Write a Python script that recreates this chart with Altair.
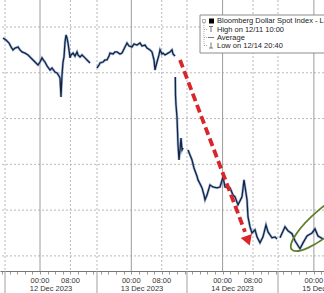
import altair as alt
import pandas as pd

# ---- series (hours from 12 Dec 2023 00:00, index level), segments split at session gaps
hours_a = [-9.73, -8.94, -8.15, -7.62, -7.10, -6.57, -5.78, -5.26, -4.73, -3.94, -3.15, -2.63, -1.84, -1.31,
           -0.53, 0.0, 0.53, 1.05, 1.31, 1.84, 2.63, 3.15, 3.94, 4.47, 4.99, 5.26, 5.52, 5.78, 6.05, 6.31,
           6.57, 6.84, 7.10, 7.36, 7.62, 7.89, 8.15, 8.68, 9.20, 9.73, 9.99, 10.52, 11.04, 11.83, 12.36, 13.14]
vals_a = [1251.52, 1251.43, 1251.30, 1251.13, 1251.00, 1251.08, 1251.13, 1251.00, 1250.91, 1250.86, 1250.78,
          1250.69, 1250.56, 1250.47, 1250.34, 1250.47, 1250.65, 1250.52, 1250.47, 1250.30, 1250.12, 1250.21,
          1250.03, 1249.99, 1249.86, 1249.77, 1248.94, 1249.90, 1250.47, 1250.69, 1251.34, 1251.65, 1251.52,
          1251.30, 1251.00, 1250.65, 1250.78, 1250.86, 1250.73, 1250.91, 1250.78, 1250.69, 1250.78, 1250.65,
          1250.56, 1250.43]

hours_b = [14.98, 15.51, 15.77, 16.56, 17.09, 17.61, 18.14, 18.40, 19.19, 19.72, 20.24, 21.03, 21.56, 22.34,
           22.87, 23.40, 24.19, 24.71, 25.50, 26.29, 26.81, 27.60, 28.13, 28.92, 29.44, 29.97, 30.23, 30.49,
           30.76, 31.28, 31.55, 32.07, 32.33, 32.86, 33.65, 34.17, 34.70, 34.96, 35.49]
vals_b = [1250.21, 1250.34, 1250.43, 1250.47, 1250.56, 1250.56, 1250.73, 1250.86, 1250.82, 1250.91, 1250.91,
          1250.82, 1250.86, 1251.13, 1251.30, 1251.17, 1251.13, 1251.26, 1251.21, 1251.30, 1251.17, 1251.21,
          1251.08, 1251.00, 1250.91, 1250.56, 1250.12, 1250.30, 1250.47, 1250.78, 1251.00, 1250.82, 1250.86,
          1250.78, 1250.86, 1250.91, 1251.00, 1250.82, 1250.73]

hours_c = [35.57, 35.62, 35.75, 36.01, 36.14, 36.28, 36.54, 36.80, 37.07, 37.33, 37.59]
vals_c = [1249.82, 1249.03, 1248.59, 1248.07, 1247.50, 1246.85, 1246.19, 1246.63, 1247.15, 1246.63, 1246.72]

hours_d = [38.91, 39.43, 39.96, 40.48, 41.27, 41.54, 42.06, 42.59, 43.11, 43.38, 43.90, 44.69,
           45.48, 46.53, 47.32, 48.10, 48.63, 49.95, 50.74, 51.26, 52.05, 53.10, 53.63, 54.15,
           54.42, 54.68, 55.21, 55.73, 56.52, 57.05, 57.83, 58.62, 59.41, 59.94, 60.99, 61.78,
           62.30]
vals_d = [1246.63, 1246.41, 1246.19, 1245.84, 1245.48, 1245.32, 1245.15, 1244.97, 1244.66, 1244.45,
          1244.66, 1245.10, 1245.01, 1244.97, 1245.01, 1245.45, 1245.01, 1244.97, 1244.66, 1244.58,
          1244.23, 1244.58, 1245.32, 1244.75, 1244.45, 1243.70, 1243.27, 1243.00, 1243.14, 1242.83,
          1242.57, 1242.83, 1243.35, 1243.05, 1242.79, 1242.83, 1242.74]

hours_e = [63.09, 64.41, 65.19, 66.25, 67.03, 68.35, 69.14, 70.19, 71.50, 72.29, 73.08, 74.40]
vals_e = [1242.79, 1243.27, 1243.10, 1242.97, 1242.66, 1242.31, 1242.57, 1242.87, 1243.00, 1243.18,
          1242.87, 1242.74]

# ---- axis / grid / labels
grid_levels = [1252, 1250, 1248, 1246, 1244, 1242]
midnight_hours = [0, 24, 48, 72]
eight_hours = [8, 32, 56]
session_bounds = [-9.20, 14.98, 38.64, 62.57]
time_label_hours = [0, 8, 24, 32, 48, 56, 72]
time_labels = ["00:00", "08:00", "00:00", "08:00", "00:00", "08:00", "00:00"]
date_centers = [2.89, 26.81, 50.60, 74.53]
date_labels = ["12 Dec 2023", "13 Dec 2023", "14 Dec 2023", "15 Dec 2023"]
legend_labels = ["Bloomberg Dollar Spot Index - Last Price", "High on 12/11 10:00", "Average",
                 "Low on 12/14 20:40"]

# ---- annotations (data units)
arrow_start = (36.80, 1250.56)
arrow_end = (53.89, 1243.05)
arrow_head = (54.68, 1242.66)
ellipse_center = (75.45, 1243.57)

FONT = "Liberation Sans"
X_DOMAIN = [-10.52, 74.66]
Y_DOMAIN = [1241.34, 1253.18]

segs = []
for name, hs, vs in [("a", hours_a, vals_a), ("b", hours_b, vals_b), ("c", hours_c, vals_c),
                     ("d", hours_d, vals_d), ("e", hours_e, vals_e)]:
    segs.append(pd.DataFrame({"h": hs, "v": vs, "seg": name}))
series = pd.concat(segs, ignore_index=True)

xscale = alt.Scale(domain=X_DOMAIN, nice=False, zero=False)
yscale = alt.Scale(domain=Y_DOMAIN, nice=False, zero=False)

xaxis = alt.Axis(values=list(range(-10, 75, 2)), labels=False, grid=False, domainColor="#777777",
                 tickColor="#999999", tickSize=3, title=None)
base_x = alt.X("h:Q", scale=xscale, axis=xaxis)

hgrid = alt.Chart(pd.DataFrame({"v": grid_levels})).mark_rule(
    color="#b8b8b8", strokeDash=[2, 2], strokeWidth=1).encode(
    y=alt.Y("v:Q", scale=yscale, axis=None))

vdot = alt.Chart(pd.DataFrame({"h": eight_hours + session_bounds})).mark_rule(
    color="#b8b8b8", strokeDash=[2, 2], strokeWidth=1).encode(x=base_x)

vsolid = alt.Chart(pd.DataFrame({"h": midnight_hours})).mark_rule(
    color="#9c9c9c", strokeWidth=1).encode(x=base_x)

sep_below = alt.Chart(pd.DataFrame({"h": session_bounds})).mark_rule(
    color="#a0a0a0", strokeWidth=1, clip=False).encode(
    x=base_x, y=alt.value(271), y2=alt.value(293))

halo = alt.Chart(series).mark_line(color="#5a86c8", strokeWidth=2.6, opacity=0.55).encode(
    x=base_x, y=alt.Y("v:Q", scale=yscale, axis=None), detail="seg:N")
core = alt.Chart(series).mark_line(color="#15233f", strokeWidth=1.3).encode(
    x=base_x, y=alt.Y("v:Q", scale=yscale, axis=None), detail="seg:N")

arrow_df = pd.DataFrame({"h": [arrow_start[0]], "v": [arrow_start[1]],
                         "h2": [arrow_end[0]], "v2": [arrow_end[1]]})
arrow = alt.Chart(arrow_df).mark_rule(color="#d8262b", strokeWidth=3.8, strokeDash=[8, 4]).encode(
    x=base_x, y=alt.Y("v:Q", scale=yscale, axis=None), x2="h2:Q", y2="v2:Q")
head = alt.Chart(pd.DataFrame({"h": [arrow_head[0]], "v": [arrow_head[1]]})).mark_point(
    shape="triangle-down", filled=True, color="#d8262b", size=140, angle=340, opacity=1).encode(
    x=base_x, y=alt.Y("v:Q", scale=yscale, axis=None))

ellipse_path = "M -1 0 A 1 0.28 0 1 0 1 0 A 1 0.28 0 1 0 -1 0 Z"
ellipse = alt.Chart(pd.DataFrame({"h": [ellipse_center[0]], "v": [ellipse_center[1]]})).mark_point(
    shape=ellipse_path, filled=False, stroke="#5d7f2a", strokeWidth=1.8, size=8464, angle=320,
    opacity=1, clip=True).encode(x=base_x, y=alt.Y("v:Q", scale=yscale, axis=None))

times = alt.Chart(pd.DataFrame({"h": time_label_hours, "t": time_labels})).mark_text(
    font=FONT, fontSize=7.5, color="#333333", baseline="middle", align="center").encode(
    x=base_x, y=alt.value(280.5), text="t:N")
dates = alt.Chart(pd.DataFrame({"h": date_centers, "t": date_labels})).mark_text(
    font=FONT, fontSize=7.5, color="#333333", baseline="middle", align="center").encode(
    x=base_x, y=alt.value(289), text="t:N")

one = pd.DataFrame({"k": [0]})
box = alt.Chart(one).mark_rect(fill="white", stroke="#8c8c8c", strokeWidth=1).encode(
    x=alt.value(200), x2=alt.value(330), y=alt.value(15), y2=alt.value(53))
legend_text = alt.Chart(pd.DataFrame({"t": legend_labels, "yy": [21, 29.5, 37.5, 45.5]})).mark_text(
    font=FONT, fontSize=7.5, color="#222222", align="left", baseline="middle").encode(
    x=alt.value(217), y=alt.Y("yy:Q", scale=None), text="t:N")
black_sq = alt.Chart(one).mark_rect(fill="black").encode(
    x=alt.value(209), x2=alt.value(214), y=alt.value(18.5), y2=alt.value(23.5))
hollow_sq = alt.Chart(one).mark_rect(fill="white", stroke="#999999", strokeWidth=0.8).encode(
    x=alt.value(202.5), x2=alt.value(205.5), y=alt.value(19.5), y2=alt.value(22.5))
tree_v = alt.Chart(one).mark_rule(color="#aaaaaa", strokeDash=[1, 1]).encode(
    x=alt.value(204), y=alt.value(23), y2=alt.value(45.5))
tree_h = alt.Chart(pd.DataFrame({"yy": [29.5, 37.5, 45.5]})).mark_rule(
    color="#aaaaaa", strokeDash=[1, 1]).encode(
    x=alt.value(204), x2=alt.value(208), y=alt.Y("yy:Q", scale=None))
hi_h = alt.Chart(one).mark_rule(color="#777777").encode(x=alt.value(209), x2=alt.value(213), y=alt.value(26.5))
hi_v = alt.Chart(one).mark_rule(color="#777777").encode(x=alt.value(211), y=alt.value(26.5), y2=alt.value(32))
avg_h = alt.Chart(one).mark_rule(color="#777777").encode(x=alt.value(208), x2=alt.value(214), y=alt.value(37.5))
lo_v = alt.Chart(one).mark_rule(color="#777777").encode(x=alt.value(211), y=alt.value(42.5), y2=alt.value(48))
lo_h = alt.Chart(one).mark_rule(color="#777777").encode(x=alt.value(209), x2=alt.value(213), y=alt.value(48))

chart = alt.layer(
    hgrid, vdot, vsolid, sep_below, halo, core, arrow, head, ellipse, times, dates,
    box, legend_text, black_sq, hollow_sq, tree_v, tree_h, hi_h, hi_v, avg_h, lo_v, lo_h
).properties(
    width=324, height=271, autosize="none", background="white",
    padding={"left": 0, "top": 0, "right": 0, "bottom": 22}
).configure_view(stroke=None)

chart.save("out.html", embed_options={"renderer": "svg", "actions": False})
